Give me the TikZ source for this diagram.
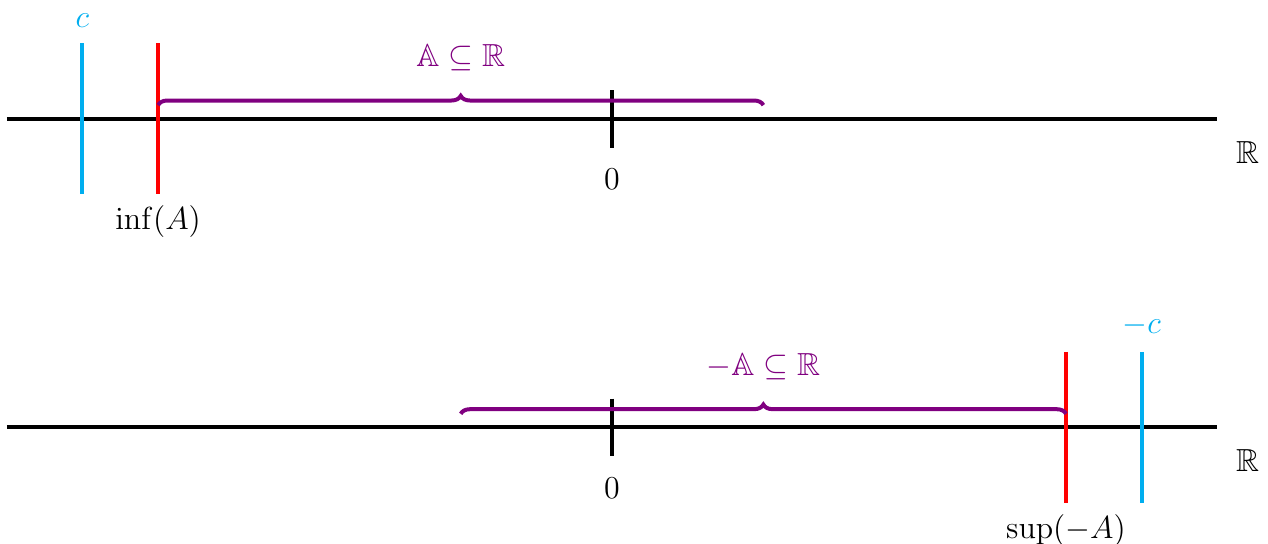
\documentclass[tikz,border=0pt,12pt]{standalone}
\usepackage{amssymb}
\usetikzlibrary{decorations.pathreplacing,positioning}
\definecolor{skyblue}{RGB}{0,174,239}

\begin{document}
\begin{tikzpicture}[
  axis/.style={line width=1.5pt},
  bound/.style={line width=1.5pt, red},
  limit/.style={line width=1.5pt, skyblue},
  setbrace/.style={decorate, decoration={brace, amplitude=3.5pt}, line width=1.5pt, violet},
  setlabel/.style={violet}
]
\useasboundingbox (-8.09,-5.61) rectangle (8.67,1.57);
% upper line: A and its infimum
\coordinate (aL) at (-8,0);
\coordinate (aR) at (8,0);
\draw[axis] (aL) -- (aR);
\node (realsA) at (8.4,-0.44) {$\mathbb{R}$};
\coordinate (zeroAtop) at (0,0.38);
\coordinate (zeroAbot) at (0,-0.38);
\draw[axis] (zeroAtop) -- (zeroAbot);
\node[below=4pt of zeroAbot] (zeroA) {$0$};
\coordinate (infTop) at (-6,1);
\coordinate (infBot) at (-6,-1);
\draw[bound] (infTop) -- (infBot);
\node[below=0pt of infBot] (infA) {$\inf(A)$};
\coordinate (cTop) at (-7,1);
\coordinate (cBot) at (-7,-1);
\draw[limit] (cTop) -- (cBot);
\node[skyblue, above=1.5pt of cTop] (cLabel) {$c$};
\coordinate (aLo) at (-6,0.18);
\coordinate (aHi) at (2,0.18);
\draw[setbrace] (aLo) -- (aHi) node[midway, above=8pt, setlabel] (setA) {$\mathbb{A} \subseteq \mathbb{R}$};

% lower line: -A and its supremum
\coordinate (bL) at (-8,-4.08);
\coordinate (bR) at (8,-4.08);
\draw[axis] (bL) -- (bR);
\node (realsB) at (8.4,-4.52) {$\mathbb{R}$};
\coordinate (zeroBtop) at (0,-3.70);
\coordinate (zeroBbot) at (0,-4.46);
\draw[axis] (zeroBtop) -- (zeroBbot);
\node[below=4pt of zeroBbot] (zeroB) {$0$};
\coordinate (supTop) at (6,-3.08);
\coordinate (supBot) at (6,-5.08);
\draw[bound] (supTop) -- (supBot);
\node[below=0pt of supBot] (supA) {$\sup(-A)$};
\coordinate (mcTop) at (7,-3.08);
\coordinate (mcBot) at (7,-5.08);
\draw[limit] (mcTop) -- (mcBot);
\node[skyblue, above=1.5pt of mcTop] (mcLabel) {$-c$};
\coordinate (bLo) at (-2,-3.90);
\coordinate (bHi) at (6,-3.90);
\draw[setbrace] (bLo) -- (bHi) node[midway, above=8pt, setlabel] (setB) {$-\mathbb{A} \subseteq \mathbb{R}$};
\end{tikzpicture}
\end{document}
